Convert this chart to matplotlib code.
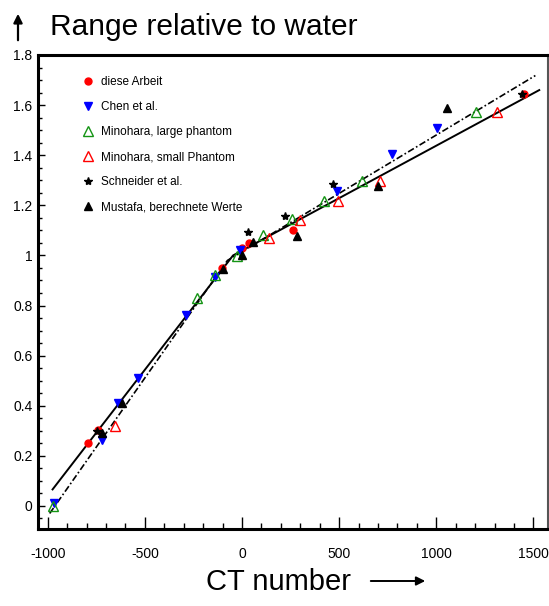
import matplotlib
matplotlib.use("Agg")
import matplotlib.pyplot as plt
from matplotlib.ticker import MultipleLocator

plt.rcParams['font.family'] = ['Liberation Sans', 'DejaVu Sans']

# ---- data ----
arbeit_x = [-794, -742, -105, -2, 38, 265, 1450]
arbeit_y = [0.251, 0.305, 0.950, 1.030, 1.050, 1.102, 1.644]

chen_x = [-966, -720, -639, -536, -289, -139, -8, 489, 773, 1002]
chen_y = [0.012, 0.262, 0.410, 0.510, 0.763, 0.913, 1.020, 1.258, 1.405, 1.508]

mino_large_x = [-971, -234, -139, -27, 110, 257, 424, 620, 1203]
mino_large_y = [0.000, 0.830, 0.922, 0.997, 1.083, 1.147, 1.218, 1.298, 1.572]

mino_small_x = [-656, 141, 300, 492, 708, 1312]
mino_small_y = [0.318, 1.069, 1.143, 1.216, 1.296, 1.572]

schneider_x = [-745, 33, 220, 468, 1440]
schneider_y = [0.300, 1.093, 1.158, 1.287, 1.645]

mustafa_x = [-720, -616, -96, -2, 58, 282, 699, 1057]
mustafa_y = [0.291, 0.410, 0.946, 1.000, 1.053, 1.077, 1.276, 1.590]

fit_solid_x = [-975, -46, 1530]
fit_solid_y = [0.066, 1.000, 1.660]

fit_dash_x = [-990, -75, 1510]
fit_dash_y = [-0.030, 0.980, 1.718]

labels = ['diese Arbeit', 'Chen et al.', 'Minohara, large phantom',
          'Minohara, small Phantom', 'Schneider et al.', 'Mustafa, berechnete Werte']

xticks = [-1000, -500, 0, 500, 1000, 1500]
yticks = [0, 0.2, 0.4, 0.6, 0.8, 1.0, 1.2, 1.4, 1.6, 1.8]
yticklabels = ['0', '0.2', '0.4', '0.6', '0.8', '1', '1.2', '1.4', '1.6', '1.8']

# ---- figure ----
fig = plt.figure(figsize=(5.49, 6.06), dpi=100)
ax = fig.add_axes([38/549, 1 - 529/606, 510/549, 474/606])

ax.plot(fit_solid_x, fit_solid_y, color='black', lw=1.4, zorder=2)
ax.plot(fit_dash_x, fit_dash_y, color='black', lw=1.2, linestyle=(0, (4, 1.5, 1, 1.5)), zorder=2)

h1, = ax.plot(arbeit_x, arbeit_y, 'o', color='#ff0000', ms=5, mec='#ff0000', ls='none', zorder=3)
h2, = ax.plot(chen_x, chen_y, 'v', color='#0000ff', ms=6, mec='#0000ff', ls='none', zorder=3)
h3, = ax.plot(mino_large_x, mino_large_y, '^', mfc='none', mec='#149414', ms=7, mew=1.0, ls='none', zorder=3)
h4, = ax.plot(mino_small_x, mino_small_y, '^', mfc='none', mec='#ff0000', ms=7, mew=1.0, ls='none', zorder=3)
h5, = ax.plot(schneider_x, schneider_y, '*', color='black', ms=6, ls='none', zorder=4)
h6, = ax.plot(mustafa_x, mustafa_y, '^', color='black', ms=6, ls='none', zorder=3)

ax.set_xlim(-1050, 1575)
ax.set_ylim(-0.092, 1.8)
ax.set_xticks(xticks)
ax.set_xticklabels([str(v) for v in xticks])
ax.set_yticks(yticks)
ax.set_yticklabels(yticklabels)
ax.xaxis.set_minor_locator(MultipleLocator(100))
ax.yaxis.set_minor_locator(MultipleLocator(0.05))
ax.tick_params(axis='both', which='both', direction='in', top=False, right=False,
               labelsize=10, width=1.0, color='black')
ax.tick_params(axis='x', which='major', length=9, pad=13)
ax.tick_params(axis='x', which='minor', length=4.5)
ax.tick_params(axis='y', which='major', length=5, pad=4)
ax.tick_params(axis='y', which='minor', length=3)
for s in ['left', 'bottom', 'top']:
    ax.spines[s].set_linewidth(2.2)
ax.spines['right'].set_linewidth(1.5)
ax.spines['right'].set_color('#555555')

leg = ax.legend([h1, h2, h3, h4, h5, h6], labels, loc='upper left',
                bbox_to_anchor=(0.088, 0.955), frameon=False, fontsize=8.5,
                handlelength=0.8, handletextpad=0.7, labelspacing=1.1,
                borderpad=0, borderaxespad=0)

# title with up arrow
fig.text(50/549, 1 - 35/606, 'Range relative to water', fontsize=21.5,
         va='baseline', ha='left')
ax.annotate('', xy=(18/549, 1 - 11/606), xytext=(18/549, 1 - 43/606),
            xycoords='figure fraction', textcoords='figure fraction',
            arrowprops=dict(arrowstyle='-|>', lw=1.6, color='black', mutation_scale=13))

# x label with right arrow
fig.text(279/549, 1 - 590/606, 'CT number', fontsize=21,
         va='baseline', ha='center')
ax.annotate('', xy=(428/549, 1 - 581/606), xytext=(368/549, 1 - 581/606),
            xycoords='figure fraction', textcoords='figure fraction',
            arrowprops=dict(arrowstyle='-|>', lw=1.4, color='black', mutation_scale=13))

fig.savefig('out.png', dpi=100)
